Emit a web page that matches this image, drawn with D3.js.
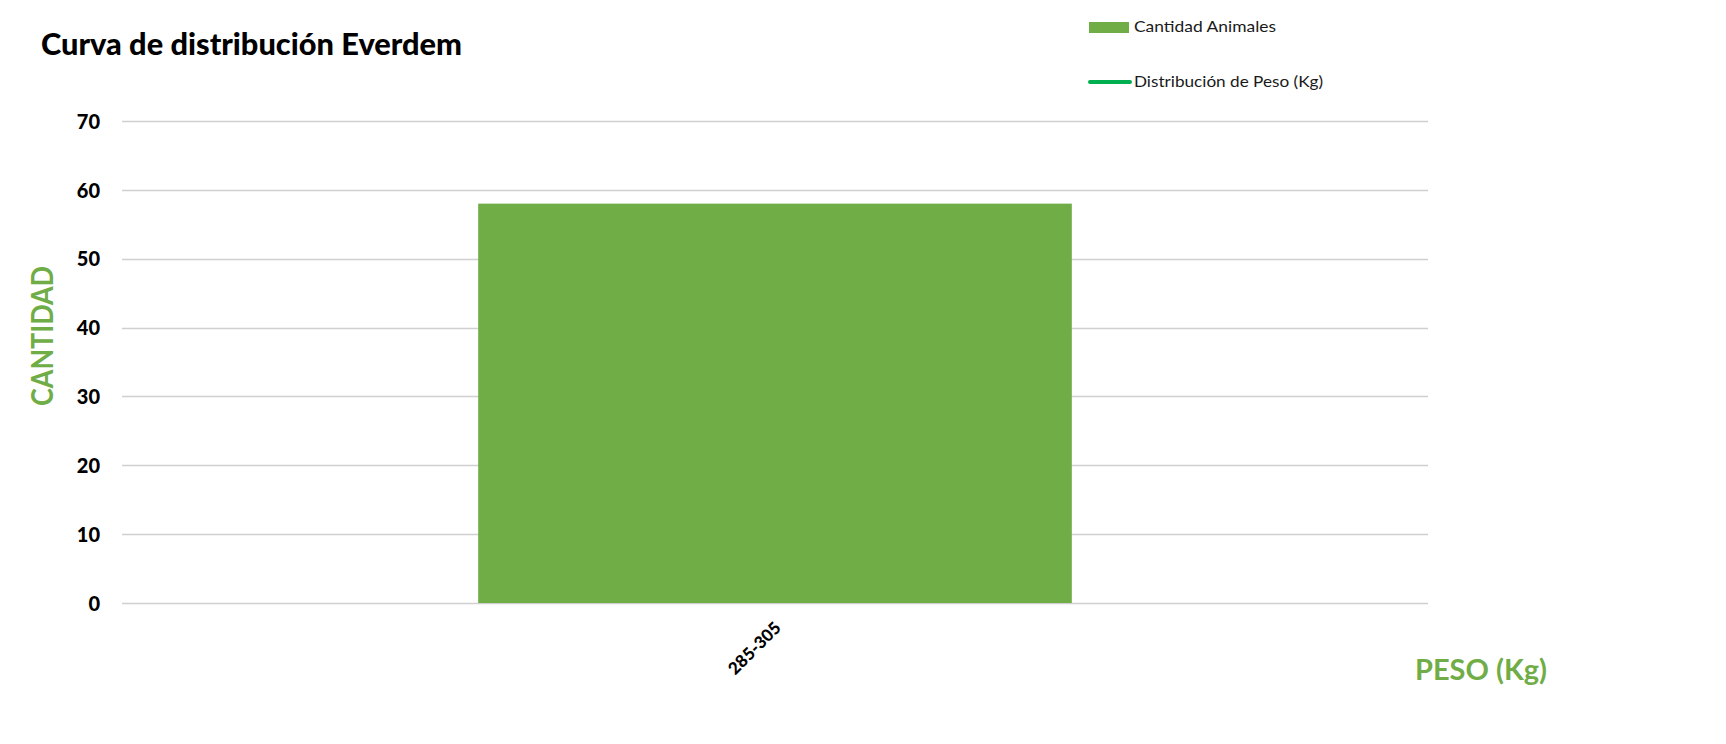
<!DOCTYPE html>
<html>
<head>
<meta charset="utf-8">
<script src="https://cdn.jsdelivr.net/npm/d3@7"></script>
<style>
  html, body { margin: 0; padding: 0; background: #ffffff; }
  svg { display: block; }
  text { font-family: Lato, "Open Sans", "Liberation Sans", sans-serif; }
</style>
</head>
<body>
<svg id="chart" width="1726" height="744"></svg>
<script>
// ---- Data ----
const categories = ["285-305"];
const cantidadAnimales = [58];
const distribucionPeso = [58];
const yTicks = [0, 10, 20, 30, 40, 50, 60, 70];
const titleText = "Curva de distribución Everdem";
const yTitle = "CANTIDAD";
const xTitle = "PESO (Kg)";
const seriesNames = ["Cantidad Animales", "Distribución de Peso (Kg)"];

// ---- Layout ----
const plot = { left: 122, right: 1428, top: 121, bottom: 603 };
const barColor = "#70AD47";
const lineColor = "#00B050";
const gridColor = "#d0d0d0";

const svg = d3.select("#chart");

const x = d3.scaleBand()
  .domain(categories)
  .range([plot.left, plot.right])
  .paddingInner(0.375)
  .paddingOuter(0.375);

const y = d3.scaleLinear()
  .domain([0, 70])
  .range([plot.bottom, plot.top]);

// Gridlines
svg.append("g")
  .selectAll("line")
  .data(yTicks)
  .join("line")
  .attr("x1", plot.left)
  .attr("x2", plot.right)
  .attr("y1", d => Math.round(y(d)) + 0.5)
  .attr("y2", d => Math.round(y(d)) + 0.5)
  .attr("stroke", gridColor)
  .attr("stroke-width", 1.3);

// Y tick labels via axis
const yAxis = d3.axisLeft(y).tickValues(yTicks).tickSize(0).tickPadding(0);
const gy = svg.append("g")
  .attr("transform", `translate(${plot.left - 22},0)`)
  .call(yAxis);
gy.select(".domain").remove();
gy.selectAll("text")
  .attr("font-family", "Lato, 'Open Sans', sans-serif")
  .attr("font-size", 20)
  .attr("font-weight", "900")
  .attr("fill", "#000")
  .attr("text-anchor", "end")
  .attr("dy", "0.36em")
  .attr("x", 0);

// Bars
svg.append("g")
  .selectAll("rect")
  .data(categories)
  .join("rect")
  .attr("x", d => x(d))
  .attr("width", x.bandwidth())
  .attr("y", (d, i) => y(cantidadAnimales[i]))
  .attr("height", (d, i) => y(0) - y(cantidadAnimales[i]))
  .attr("fill", barColor);

// Line series (single point -> nothing visible, as in reference)
const line = d3.line()
  .x((d, i) => x(categories[i]) + x.bandwidth() / 2)
  .y(d => y(d));
svg.append("path")
  .datum(distribucionPeso)
  .attr("d", line)
  .attr("fill", "none")
  .attr("stroke", lineColor)
  .attr("stroke-width", 4);

// X tick labels (rotated)
const xAxis = d3.axisBottom(x).tickSize(0).tickPadding(0);
const gx = svg.append("g")
  .attr("transform", `translate(0,${plot.bottom})`)
  .call(xAxis);
gx.select(".domain").remove();
gx.selectAll("text")
  .attr("font-family", "Lato, 'Open Sans', sans-serif")
  .attr("font-size", 17)
  .attr("font-weight", "900")
  .attr("fill", "#000")
  .attr("text-anchor", "end")
  .attr("dy", 0)
  .attr("y", 0)
  .attr("textLength", 66)
  .attr("lengthAdjust", "spacingAndGlyphs")
  .attr("transform", "translate(7,26) rotate(-45)");

// Title
svg.append("text")
  .attr("x", 41)
  .attr("y", 55)
  .attr("font-size", 30)
  .attr("font-weight", "900")
  .attr("fill", "#000")
  .attr("textLength", 421)
  .attr("lengthAdjust", "spacingAndGlyphs")
  .text(titleText);

// Y axis title
svg.append("text")
  .attr("transform", "translate(53,336) rotate(-90)")
  .attr("text-anchor", "middle")
  .attr("font-size", 30)
  .attr("font-weight", "bold")
  .attr("fill", barColor)
  .attr("textLength", 140)
  .attr("lengthAdjust", "spacingAndGlyphs")
  .text(yTitle);

// X axis title
svg.append("text")
  .attr("x", 1415)
  .attr("y", 680)
  .attr("font-size", 29)
  .attr("font-weight", "bold")
  .attr("fill", barColor)
  .attr("textLength", 132)
  .attr("lengthAdjust", "spacingAndGlyphs")
  .text(xTitle);

// Legend
const lg = svg.append("g");
lg.append("rect")
  .attr("x", 1089).attr("y", 22)
  .attr("width", 40).attr("height", 11)
  .attr("fill", barColor);
lg.append("text")
  .attr("x", 1134).attr("y", 32)
  .attr("font-size", 16)
  .attr("fill", "#1a1a1a")
  .attr("textLength", 142)
  .attr("lengthAdjust", "spacingAndGlyphs")
  .text(seriesNames[0]);
lg.append("line")
  .attr("x1", 1090).attr("x2", 1130)
  .attr("y1", 82).attr("y2", 82)
  .attr("stroke", lineColor)
  .attr("stroke-width", 4)
  .attr("stroke-linecap", "round");
lg.append("text")
  .attr("x", 1134).attr("y", 87)
  .attr("font-size", 16)
  .attr("fill", "#1a1a1a")
  .attr("textLength", 189)
  .attr("lengthAdjust", "spacingAndGlyphs")
  .text(seriesNames[1]);
</script>
</body>
</html>
